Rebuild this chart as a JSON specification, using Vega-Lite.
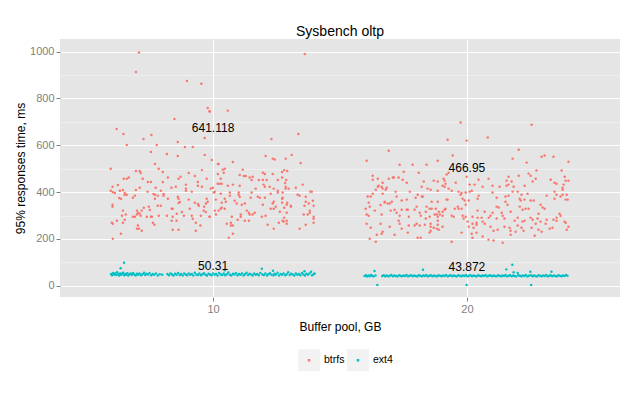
{
"$schema": "https://vega.github.io/schema/vega-lite/v6.json",
"width": 560, "height": 258,
"autosize": {"type": "none"},
"padding": {"left": 60, "top": 39, "right": 20, "bottom": 101},
"title": {"text": "Sysbench oltp", "fontSize": 14, "fontWeight": "normal", "color": "#000000", "anchor": "middle", "offset": 0},
"config": {"font": "Liberation Sans", "view": {"fill": "#E5E5E5", "stroke": null}},
"datasets": {
"btrfs": [
{"x":7.08,"y":996},{"x":6.96,"y":913},{"x":8.97,"y":875},{"x":9.54,"y":863},{"x":9.79,"y":759},{"x":9.86,"y":745},{"x":8.48,"y":712},{"x":6.2,"y":670},{"x":6.47,"y":648},{"x":7.26,"y":627},{"x":7.57,"y":644},{"x":6.6,"y":601},{"x":7.78,"y":601},{"x":8.61,"y":614},{"x":9.67,"y":631},{"x":8.89,"y":593},{"x":9.2,"y":593},{"x":7.55,"y":571},{"x":8.18,"y":563},{"x":8.61,"y":554},{"x":9.67,"y":559},{"x":7.71,"y":520},{"x":5.97,"y":500},{"x":7.86,"y":500},{"x":9.56,"y":494},{"x":6.96,"y":490},{"x":7.11,"y":490},{"x":7.15,"y":482},{"x":8.02,"y":486},{"x":9.04,"y":482},{"x":9.28,"y":469},{"x":9.75,"y":457},{"x":8.22,"y":462},{"x":8.72,"y":466},{"x":8.64,"y":457},{"x":6.48,"y":457},{"x":6.6,"y":457},{"x":6.68,"y":462},{"x":7.23,"y":457},{"x":7.43,"y":443},{"x":7.55,"y":443},{"x":6.25,"y":430},{"x":6.04,"y":423},{"x":7.11,"y":419},{"x":7.74,"y":419},{"x":8.02,"y":443},{"x":8.53,"y":423},{"x":8.36,"y":419},{"x":8.93,"y":432},{"x":9.16,"y":402},{"x":9.4,"y":443},{"x":9.4,"y":427},{"x":9.56,"y":423},{"x":5.97,"y":406},{"x":6.05,"y":400},{"x":6.13,"y":396},{"x":6.33,"y":406},{"x":6.45,"y":409},{"x":6.52,"y":396},{"x":6.52,"y":388},{"x":6.6,"y":389},{"x":6.96,"y":409},{"x":6.92,"y":385},{"x":6.84,"y":376},{"x":7.42,"y":402},{"x":7.65,"y":392},{"x":7.71,"y":389},{"x":7.82,"y":385},{"x":7.94,"y":406},{"x":8.05,"y":392},{"x":8.05,"y":385},{"x":8.22,"y":372},{"x":8.61,"y":380},{"x":8.64,"y":372},{"x":8.69,"y":358},{"x":8.64,"y":353},{"x":8.93,"y":415},{"x":8.93,"y":406},{"x":9.04,"y":368},{"x":9.28,"y":355},{"x":9.4,"y":349},{"x":9.44,"y":342},{"x":9.65,"y":338},{"x":9.72,"y":351},{"x":9.79,"y":359},{"x":9.75,"y":372},{"x":6.3,"y":375},{"x":6.37,"y":372},{"x":6.04,"y":346},{"x":6.04,"y":338},{"x":7.27,"y":333},{"x":7.47,"y":338},{"x":7.71,"y":372},{"x":7.94,"y":342},{"x":7.82,"y":342},{"x":8.37,"y":329},{"x":8.41,"y":329},{"x":8.77,"y":315},{"x":9.08,"y":329},{"x":7.0,"y":321},{"x":6.45,"y":321},{"x":7.19,"y":321},{"x":7.51,"y":324},{"x":8.57,"y":308},{"x":7.04,"y":312},{"x":7.0,"y":304},{"x":6.56,"y":304},{"x":6.41,"y":299},{"x":6.84,"y":295},{"x":6.92,"y":295},{"x":7.11,"y":308},{"x":7.15,"y":299},{"x":7.39,"y":295},{"x":7.59,"y":295},{"x":7.55,"y":295},{"x":7.86,"y":299},{"x":8.18,"y":299},{"x":8.41,"y":295},{"x":8.85,"y":299},{"x":9.16,"y":299},{"x":9.2,"y":286},{"x":9.52,"y":299},{"x":9.63,"y":321},{"x":9.86,"y":295},{"x":9.71,"y":315},{"x":6.01,"y":269},{"x":6.05,"y":265},{"x":6.21,"y":278},{"x":6.52,"y":282},{"x":6.45,"y":269},{"x":7.63,"y":269},{"x":7.69,"y":261},{"x":8.37,"y":278},{"x":8.56,"y":278},{"x":9.32,"y":269},{"x":9.5,"y":257},{"x":7.04,"y":257},{"x":7.0,"y":244},{"x":7.08,"y":244},{"x":7.19,"y":235},{"x":8.41,"y":239},{"x":8.64,"y":239},{"x":9.32,"y":235},{"x":6.37,"y":222},{"x":6.05,"y":201},
{"x":13.61,"y":990},{"x":10.58,"y":748},{"x":9.87,"y":744},{"x":12.3,"y":627},{"x":13.36,"y":648},{"x":12.07,"y":554},{"x":12.35,"y":543},{"x":12.43,"y":539},{"x":12.86,"y":543},{"x":13.1,"y":559},{"x":13.45,"y":524},{"x":9.95,"y":537},{"x":10.78,"y":529},{"x":10.19,"y":520},{"x":10.22,"y":520},{"x":10.38,"y":496},{"x":10.46,"y":500},{"x":11.17,"y":496},{"x":10.42,"y":483},{"x":10.19,"y":477},{"x":11.05,"y":473},{"x":11.21,"y":469},{"x":11.29,"y":469},{"x":11.44,"y":462},{"x":11.56,"y":466},{"x":11.52,"y":452},{"x":11.96,"y":483},{"x":12.04,"y":477},{"x":11.8,"y":452},{"x":11.96,"y":452},{"x":12.11,"y":452},{"x":12.35,"y":477},{"x":12.55,"y":452},{"x":12.72,"y":486},{"x":12.8,"y":494},{"x":12.92,"y":490},{"x":12.72,"y":462},{"x":12.88,"y":452},{"x":12.84,"y":439},{"x":10.3,"y":457},{"x":9.99,"y":419},{"x":9.91,"y":415},{"x":10.18,"y":436},{"x":10.26,"y":436},{"x":10.34,"y":436},{"x":10.58,"y":427},{"x":10.78,"y":432},{"x":11.05,"y":427},{"x":11.68,"y":415},{"x":11.99,"y":432},{"x":12.04,"y":423},{"x":12.23,"y":423},{"x":12.39,"y":415},{"x":12.55,"y":406},{"x":12.55,"y":398},{"x":12.74,"y":398},{"x":12.86,"y":423},{"x":12.86,"y":415},{"x":12.98,"y":415},{"x":13.26,"y":419},{"x":13.53,"y":432},{"x":13.83,"y":402},{"x":13.89,"y":402},{"x":10.03,"y":398},{"x":10.07,"y":402},{"x":10.3,"y":393},{"x":10.66,"y":398},{"x":10.66,"y":385},{"x":11.01,"y":398},{"x":11.01,"y":389},{"x":11.05,"y":380},{"x":11.52,"y":398},{"x":11.48,"y":376},{"x":11.76,"y":380},{"x":11.84,"y":376},{"x":12.04,"y":376},{"x":12.27,"y":393},{"x":12.39,"y":359},{"x":12.35,"y":351},{"x":12.74,"y":376},{"x":13.33,"y":389},{"x":13.41,"y":385},{"x":12.72,"y":372},{"x":12.72,"y":355},{"x":12.92,"y":355},{"x":13.65,"y":380},{"x":13.65,"y":359},{"x":13.77,"y":351},{"x":13.96,"y":342},{"x":13.93,"y":363},{"x":10.11,"y":368},{"x":10.34,"y":355},{"x":10.5,"y":359},{"x":10.46,"y":372},{"x":10.85,"y":363},{"x":10.93,"y":351},{"x":11.13,"y":346},{"x":11.25,"y":351},{"x":11.96,"y":346},{"x":12.27,"y":329},{"x":12.39,"y":329},{"x":12.47,"y":338},{"x":12.63,"y":316},{"x":12.8,"y":333},{"x":12.9,"y":346},{"x":13.06,"y":342},{"x":13.07,"y":338},{"x":13.6,"y":342},{"x":13.81,"y":321},{"x":13.81,"y":312},{"x":9.87,"y":295},{"x":10.11,"y":304},{"x":10.3,"y":329},{"x":10.34,"y":333},{"x":10.46,"y":329},{"x":10.07,"y":321},{"x":10.22,"y":321},{"x":10.74,"y":295},{"x":11.09,"y":304},{"x":11.09,"y":295},{"x":11.33,"y":321},{"x":11.41,"y":312},{"x":11.44,"y":304},{"x":11.56,"y":304},{"x":11.64,"y":312},{"x":11.92,"y":295},{"x":12.07,"y":299},{"x":12.9,"y":312},{"x":12.8,"y":291},{"x":13.57,"y":304},{"x":13.73,"y":304},{"x":13.96,"y":295},{"x":13.96,"y":286},{"x":13.96,"y":269},{"x":10.97,"y":282},{"x":11.25,"y":278},{"x":11.41,"y":278},{"x":12.74,"y":278},{"x":12.78,"y":274},{"x":12.9,"y":278},{"x":12.9,"y":265},{"x":13.65,"y":261},{"x":10.54,"y":265},{"x":10.7,"y":269},{"x":10.7,"y":257},{"x":10.78,"y":257},{"x":12.15,"y":261},{"x":12.59,"y":269},{"x":12.39,"y":244},{"x":13.41,"y":244},{"x":10.78,"y":222},{"x":10.62,"y":205},
{"x":19.75,"y":697},{"x":19.24,"y":624},{"x":19.44,"y":556},{"x":16.92,"y":577},{"x":16.05,"y":534},{"x":17.35,"y":517},{"x":17.86,"y":517},{"x":18.41,"y":517},{"x":18.85,"y":534},{"x":17.51,"y":487},{"x":18.1,"y":483},{"x":16.29,"y":470},{"x":16.29,"y":453},{"x":16.49,"y":457},{"x":16.68,"y":440},{"x":16.92,"y":457},{"x":17.08,"y":462},{"x":17.12,"y":462},{"x":17.31,"y":462},{"x":17.47,"y":453},{"x":17.63,"y":440},{"x":18.3,"y":445},{"x":18.69,"y":449},{"x":18.85,"y":445},{"x":19.08,"y":457},{"x":19.12,"y":449},{"x":19.2,"y":475},{"x":19.28,"y":483},{"x":19.56,"y":440},{"x":16.52,"y":427},{"x":16.49,"y":423},{"x":16.64,"y":423},{"x":16.68,"y":415},{"x":16.8,"y":410},{"x":16.84,"y":419},{"x":16.41,"y":410},{"x":17.19,"y":402},{"x":17.75,"y":402},{"x":18.22,"y":423},{"x":18.45,"y":415},{"x":18.57,"y":410},{"x":18.85,"y":406},{"x":19.04,"y":427},{"x":19.12,"y":423},{"x":19.16,"y":436},{"x":19.28,"y":415},{"x":19.4,"y":406},{"x":19.67,"y":402},{"x":19.75,"y":389},{"x":19.79,"y":396},{"x":16.09,"y":381},{"x":16.21,"y":381},{"x":16.29,"y":393},{"x":16.68,"y":393},{"x":17.23,"y":381},{"x":17.63,"y":368},{"x":18.06,"y":389},{"x":17.98,"y":376},{"x":18.22,"y":381},{"x":18.26,"y":381},{"x":18.61,"y":359},{"x":18.85,"y":359},{"x":19.2,"y":368},{"x":19.24,"y":368},{"x":19.83,"y":372},{"x":16.13,"y":355},{"x":16.76,"y":355},{"x":16.76,"y":359},{"x":16.88,"y":351},{"x":16.96,"y":351},{"x":17.04,"y":359},{"x":17.43,"y":364},{"x":16.01,"y":329},{"x":16.17,"y":338},{"x":16.37,"y":321},{"x":16.6,"y":345},{"x":17.0,"y":321},{"x":17.15,"y":325},{"x":17.23,"y":312},{"x":17.43,"y":325},{"x":17.63,"y":325},{"x":17.67,"y":325},{"x":17.94,"y":325},{"x":18.02,"y":338},{"x":18.14,"y":312},{"x":18.18,"y":299},{"x":18.38,"y":316},{"x":18.41,"y":338},{"x":18.53,"y":329},{"x":18.61,"y":329},{"x":18.77,"y":329},{"x":18.89,"y":316},{"x":19.04,"y":316},{"x":19.12,"y":325},{"x":19.16,"y":329},{"x":19.52,"y":329},{"x":19.64,"y":338},{"x":19.67,"y":329},{"x":19.79,"y":329},{"x":16.05,"y":304},{"x":16.13,"y":299},{"x":16.64,"y":304},{"x":17.35,"y":299},{"x":17.71,"y":295},{"x":18.38,"y":287},{"x":18.53,"y":295},{"x":18.73,"y":304},{"x":18.81,"y":304},{"x":18.85,"y":295},{"x":18.93,"y":304},{"x":19.04,"y":299},{"x":19.4,"y":299},{"x":19.48,"y":295},{"x":19.83,"y":299},{"x":19.87,"y":287},{"x":16.05,"y":265},{"x":16.6,"y":265},{"x":17.31,"y":278},{"x":17.35,"y":265},{"x":17.94,"y":257},{"x":18.02,"y":265},{"x":18.14,"y":257},{"x":18.34,"y":261},{"x":18.57,"y":265},{"x":18.57,"y":252},{"x":18.69,"y":248},{"x":18.85,"y":278},{"x":18.85,"y":261},{"x":19.04,"y":252},{"x":16.21,"y":248},{"x":16.96,"y":252},{"x":17.43,"y":244},{"x":17.71,"y":257},{"x":18.57,"y":235},{"x":18.53,"y":227},{"x":18.89,"y":239},{"x":18.81,"y":244},{"x":16.68,"y":231},{"x":16.64,"y":222},{"x":16.45,"y":218},{"x":17.15,"y":218},{"x":17.67,"y":227},{"x":19.79,"y":227},{"x":16.17,"y":201},{"x":18.06,"y":205},{"x":18.18,"y":205},{"x":16.41,"y":188},{"x":19.4,"y":188},
{"x":22.55,"y":688},{"x":19.99,"y":620},{"x":20.82,"y":633},{"x":22.04,"y":581},{"x":21.8,"y":543},{"x":22.35,"y":526},{"x":22.94,"y":551},{"x":23.06,"y":556},{"x":23.41,"y":551},{"x":24.0,"y":530},{"x":22.74,"y":492},{"x":22.43,"y":479},{"x":22.51,"y":470},{"x":23.73,"y":492},{"x":19.99,"y":466},{"x":20.46,"y":453},{"x":20.85,"y":457},{"x":21.64,"y":466},{"x":21.56,"y":449},{"x":21.76,"y":445},{"x":22.04,"y":470},{"x":22.59,"y":445},{"x":22.71,"y":457},{"x":23.3,"y":453},{"x":23.45,"y":440},{"x":23.85,"y":466},{"x":23.89,"y":449},{"x":24.0,"y":449},{"x":23.81,"y":432},{"x":20.11,"y":432},{"x":20.3,"y":432},{"x":20.62,"y":423},{"x":21.01,"y":427},{"x":21.29,"y":423},{"x":21.56,"y":427},{"x":21.64,"y":432},{"x":21.84,"y":423},{"x":22.27,"y":427},{"x":23.53,"y":436},{"x":23.77,"y":419},{"x":23.77,"y":410},{"x":19.95,"y":398},{"x":20.11,"y":402},{"x":20.19,"y":406},{"x":21.8,"y":402},{"x":22.0,"y":402},{"x":22.15,"y":389},{"x":22.39,"y":393},{"x":23.45,"y":402},{"x":23.53,"y":389},{"x":23.69,"y":381},{"x":23.77,"y":389},{"x":23.93,"y":389},{"x":23.89,"y":368},{"x":20.46,"y":385},{"x":20.42,"y":372},{"x":21.01,"y":398},{"x":21.52,"y":381},{"x":21.64,"y":385},{"x":22.08,"y":372},{"x":22.12,"y":364},{"x":22.27,"y":368},{"x":22.51,"y":364},{"x":22.63,"y":364},{"x":23.14,"y":385},{"x":23.45,"y":372},{"x":23.97,"y":368},{"x":19.91,"y":364},{"x":20.07,"y":364},{"x":19.95,"y":346},{"x":21.17,"y":376},{"x":21.52,"y":359},{"x":21.17,"y":338},{"x":21.25,"y":334},{"x":21.6,"y":346},{"x":22.08,"y":338},{"x":22.9,"y":346},{"x":22.98,"y":334},{"x":23.06,"y":329},{"x":22.19,"y":325},{"x":22.31,"y":329},{"x":22.43,"y":329},{"x":20.42,"y":321},{"x":20.7,"y":316},{"x":21.01,"y":312},{"x":21.41,"y":299},{"x":21.37,"y":312},{"x":21.72,"y":316},{"x":22.82,"y":308},{"x":23.65,"y":308},{"x":23.69,"y":299},{"x":23.53,"y":291},{"x":19.95,"y":295},{"x":20.22,"y":295},{"x":20.42,"y":291},{"x":20.58,"y":291},{"x":20.86,"y":291},{"x":20.93,"y":299},{"x":21.17,"y":287},{"x":21.48,"y":287},{"x":21.88,"y":278},{"x":22.0,"y":291},{"x":22.19,"y":274},{"x":22.27,"y":278},{"x":22.51,"y":291},{"x":22.59,"y":282},{"x":22.78,"y":287},{"x":22.9,"y":274},{"x":23.14,"y":282},{"x":23.41,"y":282},{"x":23.53,"y":278},{"x":23.85,"y":274},{"x":23.89,"y":269},{"x":20.03,"y":274},{"x":20.22,"y":265},{"x":20.38,"y":269},{"x":20.38,"y":261},{"x":20.62,"y":274},{"x":20.7,"y":265},{"x":20.07,"y":252},{"x":20.26,"y":248},{"x":20.93,"y":252},{"x":21.48,"y":252},{"x":21.68,"y":248},{"x":22.0,"y":257},{"x":22.15,"y":248},{"x":22.55,"y":248},{"x":22.71,"y":265},{"x":23.1,"y":265},{"x":23.26,"y":244},{"x":23.37,"y":248},{"x":24.0,"y":252},{"x":21.05,"y":235},{"x":21.21,"y":239},{"x":21.72,"y":235},{"x":21.92,"y":231},{"x":22.23,"y":235},{"x":22.82,"y":239},{"x":22.94,"y":231},{"x":23.93,"y":239},{"x":20.19,"y":222},{"x":20.38,"y":227},{"x":21.72,"y":218},{"x":22.67,"y":214},{"x":20.22,"y":205},{"x":20.62,"y":210},{"x":20.85,"y":197},{"x":21.05,"y":193},{"x":21.41,"y":184}
],
"ext4": [
{"x":5.98,"y":50},{"x":6.02,"y":45},{"x":6.06,"y":55},{"x":6.1,"y":48},{"x":6.14,"y":52},{"x":6.18,"y":46},{"x":6.22,"y":58},{"x":6.26,"y":49},{"x":6.3,"y":44},{"x":6.34,"y":53},{"x":6.36,"y":75},{"x":6.38,"y":47},{"x":6.42,"y":51},{"x":6.46,"y":56},{"x":6.49,"y":98},{"x":6.5,"y":45},{"x":6.54,"y":50},{"x":6.58,"y":47},{"x":6.62,"y":54},{"x":6.66,"y":44},{"x":6.7,"y":49},{"x":6.75,"y":52},{"x":6.8,"y":46},{"x":6.85,"y":55},{"x":6.9,"y":48},{"x":6.95,"y":44},{"x":7.0,"y":51},{"x":7.05,"y":47},{"x":7.1,"y":53},{"x":7.16,"y":45},{"x":7.22,"y":49},{"x":7.28,"y":56},{"x":7.33,"y":46},{"x":7.38,"y":51},{"x":7.44,"y":48},{"x":7.5,"y":54},{"x":7.56,"y":45},{"x":7.62,"y":50},{"x":7.68,"y":47},{"x":7.75,"y":52},{"x":7.82,"y":44},{"x":7.9,"y":49},{"x":8.0,"y":47},{"x":8.2,"y":50},{"x":8.26,"y":45},{"x":8.32,"y":53},{"x":8.38,"y":48},{"x":8.44,"y":44},{"x":8.5,"y":51},{"x":8.56,"y":47},{"x":8.62,"y":55},{"x":8.68,"y":46},{"x":8.74,"y":50},{"x":8.8,"y":44},{"x":8.86,"y":52},{"x":8.92,"y":48},{"x":8.98,"y":45},{"x":9.04,"y":53},{"x":9.1,"y":47},{"x":9.16,"y":50},{"x":9.22,"y":44},{"x":9.28,"y":56},{"x":9.34,"y":48},{"x":9.4,"y":46},{"x":9.46,"y":52},{"x":9.52,"y":45},{"x":9.58,"y":49},{"x":9.64,"y":54},{"x":9.7,"y":47},{"x":9.76,"y":44},{"x":9.82,"y":51},{"x":9.88,"y":48},{"x":9.94,"y":45},{"x":10.0,"y":53},{"x":10.06,"y":47},{"x":10.12,"y":50},{"x":10.18,"y":44},{"x":10.24,"y":55},{"x":10.3,"y":48},{"x":10.36,"y":46},{"x":10.42,"y":52},{"x":10.46,"y":66},{"x":10.48,"y":45},{"x":10.54,"y":49},{"x":10.6,"y":57},{"x":10.66,"y":47},{"x":10.72,"y":44},{"x":10.78,"y":51},{"x":10.84,"y":48},{"x":10.9,"y":54},{"x":10.96,"y":45},{"x":11.02,"y":50},{"x":11.08,"y":47},{"x":11.14,"y":53},{"x":11.2,"y":44},{"x":11.26,"y":49},{"x":11.32,"y":56},{"x":11.38,"y":46},{"x":11.44,"y":51},{"x":11.5,"y":48},{"x":11.56,"y":44},{"x":11.62,"y":52},{"x":11.68,"y":47},{"x":11.74,"y":50},{"x":11.8,"y":45},{"x":11.86,"y":55},{"x":11.92,"y":73},{"x":11.94,"y":48},{"x":12.0,"y":46},{"x":12.06,"y":52},{"x":12.12,"y":44},{"x":12.18,"y":49},{"x":12.24,"y":54},{"x":12.3,"y":47},{"x":12.36,"y":64},{"x":12.38,"y":45},{"x":12.42,"y":51},{"x":12.48,"y":48},{"x":12.54,"y":56},{"x":12.6,"y":44},{"x":12.66,"y":50},{"x":12.72,"y":47},{"x":12.78,"y":53},{"x":12.84,"y":45},{"x":12.9,"y":49},{"x":12.96,"y":58},{"x":13.02,"y":46},{"x":13.08,"y":51},{"x":13.14,"y":48},{"x":13.2,"y":44},{"x":13.26,"y":52},{"x":13.32,"y":47},{"x":13.38,"y":50},{"x":13.44,"y":45},{"x":13.5,"y":55},{"x":13.56,"y":48},{"x":13.6,"y":62},{"x":13.62,"y":44},{"x":13.68,"y":51},{"x":13.74,"y":47},{"x":13.8,"y":53},{"x":13.86,"y":60},{"x":13.9,"y":45},{"x":13.96,"y":49},{"x":14.0,"y":52},
{"x":15.97,"y":42},{"x":16.02,"y":45},{"x":16.07,"y":40},{"x":16.12,"y":44},{"x":16.17,"y":41},{"x":16.22,"y":46},{"x":16.27,"y":43},{"x":16.32,"y":40},{"x":16.36,"y":63},{"x":16.4,"y":44},{"x":16.47,"y":3},{"x":16.66,"y":42},{"x":16.72,"y":45},{"x":16.78,"y":41},{"x":16.84,"y":44},{"x":16.9,"y":40},{"x":16.96,"y":43},{"x":17.02,"y":46},{"x":17.08,"y":41},{"x":17.14,"y":44},{"x":17.2,"y":42},{"x":17.26,"y":40},{"x":17.32,"y":45},{"x":17.38,"y":43},{"x":17.44,"y":41},{"x":17.5,"y":44},{"x":17.56,"y":42},{"x":17.62,"y":46},{"x":17.68,"y":40},{"x":17.74,"y":43},{"x":17.8,"y":45},{"x":17.86,"y":41},{"x":17.92,"y":44},{"x":17.98,"y":42},{"x":18.04,"y":40},{"x":18.1,"y":45},{"x":18.16,"y":43},{"x":18.22,"y":41},{"x":18.27,"y":68},{"x":18.28,"y":44},{"x":18.34,"y":42},{"x":18.4,"y":46},{"x":18.46,"y":40},{"x":18.52,"y":43},{"x":18.58,"y":45},{"x":18.64,"y":41},{"x":18.7,"y":44},{"x":18.76,"y":42},{"x":18.82,"y":40},{"x":18.88,"y":45},{"x":18.94,"y":43},{"x":19.0,"y":41},{"x":19.06,"y":44},{"x":19.12,"y":42},{"x":19.18,"y":46},{"x":19.24,"y":40},{"x":19.3,"y":43},{"x":19.36,"y":45},{"x":19.42,"y":41},{"x":19.48,"y":44},{"x":19.54,"y":42},{"x":19.6,"y":40},{"x":19.66,"y":45},{"x":19.72,"y":43},{"x":19.78,"y":41},{"x":19.84,"y":44},{"x":19.9,"y":42},{"x":19.96,"y":46},{"x":19.99,"y":3},{"x":20.02,"y":40},{"x":20.08,"y":43},{"x":20.14,"y":45},{"x":20.2,"y":41},{"x":20.26,"y":44},{"x":20.32,"y":42},{"x":20.38,"y":40},{"x":20.44,"y":45},{"x":20.5,"y":43},{"x":20.56,"y":41},{"x":20.62,"y":44},{"x":20.68,"y":42},{"x":20.74,"y":46},{"x":20.8,"y":40},{"x":20.86,"y":43},{"x":20.92,"y":45},{"x":20.98,"y":41},{"x":21.04,"y":44},{"x":21.1,"y":42},{"x":21.16,"y":40},{"x":21.22,"y":45},{"x":21.28,"y":43},{"x":21.34,"y":41},{"x":21.4,"y":44},{"x":21.46,"y":42},{"x":21.52,"y":46},{"x":21.55,"y":70},{"x":21.58,"y":40},{"x":21.64,"y":43},{"x":21.7,"y":45},{"x":21.76,"y":41},{"x":21.79,"y":90},{"x":21.82,"y":44},{"x":21.84,"y":58},{"x":21.88,"y":42},{"x":21.94,"y":40},{"x":22.0,"y":55},{"x":22.02,"y":45},{"x":22.08,"y":43},{"x":22.14,"y":41},{"x":22.2,"y":44},{"x":22.26,"y":42},{"x":22.32,"y":46},{"x":22.38,"y":40},{"x":22.44,"y":43},{"x":22.5,"y":60},{"x":22.52,"y":45},{"x":22.53,"y":3},{"x":22.58,"y":41},{"x":22.64,"y":44},{"x":22.7,"y":42},{"x":22.76,"y":40},{"x":22.82,"y":45},{"x":22.88,"y":43},{"x":22.94,"y":41},{"x":23.0,"y":44},{"x":23.06,"y":42},{"x":23.12,"y":46},{"x":23.18,"y":40},{"x":23.24,"y":43},{"x":23.3,"y":45},{"x":23.33,"y":60},{"x":23.36,"y":41},{"x":23.42,"y":44},{"x":23.48,"y":42},{"x":23.54,"y":40},{"x":23.6,"y":45},{"x":23.66,"y":43},{"x":23.72,"y":41},{"x":23.78,"y":44},{"x":23.84,"y":42},{"x":23.9,"y":46},{"x":23.96,"y":43}
],
"labels": [
{"x":10,"y":641.118,"label":"641.118"},
{"x":10,"y":50.31,"label":"50.31"},
{"x":20,"y":466.95,"label":"466.95"},
{"x":20,"y":43.872,"label":"43.872"}
]
},
"encoding": {
"x": {"field": "x", "type": "quantitative", "scale": {"domain": [3.97, 26.03], "nice": false, "zero": false},
 "axis": {"title": "Buffer pool, GB", "values": [10, 20], "format": "d", "domain": false, "tickColor": "#7F7F7F", "tickSize": 4, "labelColor": "#7F7F7F", "labelFontSize": 11, "labelPadding": 2, "gridColor": "#FFFFFF", "gridWidth": 1.1, "titleFontSize": 12, "titleFontWeight": "normal", "titleColor": "#000000", "titlePadding": 7}},
"y": {"field": "y", "type": "quantitative", "scale": {"domain": [-48, 1054], "nice": false, "zero": false},
 "axis": {"title": "95% responses time, ms", "values": [0,100,200,300,400,500,600,700,800,900,1000], "format": "d", "labelExpr": "datum.value % 200 === 0 ? datum.label : ''", "domain": false, "tickColor": "#7F7F7F", "tickSize": 4, "tickOpacity": {"condition": {"test": "datum.value % 200 === 0", "value": 1}, "value": 0}, "labelColor": "#7F7F7F", "labelFontSize": 11, "labelPadding": 2, "gridColor": {"condition": {"test": "datum.value % 200 === 0", "value": "#FFFFFF"}, "value": "#F4F4F4"}, "gridWidth": {"condition": {"test": "datum.value % 200 === 0", "value": 1.1}, "value": 0.6}, "titleFontSize": 12, "titleFontWeight": "normal", "titleColor": "#000000", "titlePadding": 2}}
},
"layer": [
{"data": {"name": "btrfs"}, "mark": {"type": "point", "filled": true, "size": 6, "opacity": 1}, "encoding": {"color": {"datum": "btrfs", "type": "nominal", "scale": {"domain": ["btrfs", "ext4"], "range": ["#F8766D", "#00BFC4"]}, "legend": {"title": null, "orient": "none", "legendX": 238, "legendY": 310, "direction": "horizontal", "symbolType": "square", "symbolSize": 150, "symbolStrokeColor": "#F2F2F2", "symbolStrokeWidth": 9.75, "labelFontSize": 10.5, "labelColor": "#000000", "columnPadding": -13, "labelOffset": 4}}}},
{"data": {"name": "ext4"}, "mark": {"type": "point", "filled": true, "size": 6, "opacity": 1}, "encoding": {"color": {"datum": "ext4", "type": "nominal"}}},
{"data": {"name": "labels"}, "mark": {"type": "text", "fontSize": 12, "baseline": "bottom", "dy": -1, "color": "#000000"}, "encoding": {"text": {"field": "label"}}}
]
}
